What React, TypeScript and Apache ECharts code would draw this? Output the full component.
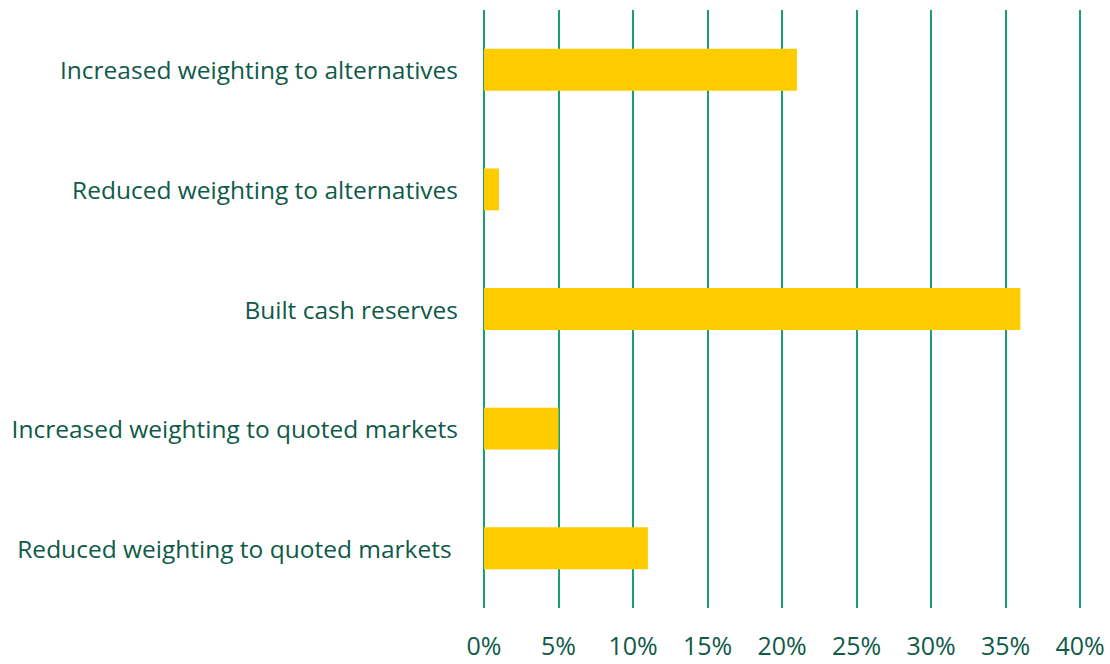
import React, { useEffect, useRef } from "react";
import * as echarts from "echarts";

const categories = [
  "Reduced weighting to quoted markets ",
  "Increased weighting to quoted markets",
  "Built cash reserves",
  "Reduced weighting to alternatives",
  "Increased weighting to alternatives",
];
const values = [11, 5, 36, 1, 21];
const xTicks = [0, 5, 10, 15, 20, 25, 30, 35, 40];

export default function App() {
  const ref = useRef<HTMLDivElement>(null);
  useEffect(() => {
    if (!ref.current) return;
    const chart = echarts.init(ref.current, null, { renderer: "svg" });
    chart.setOption({
      animation: false,
      grid: { left: 484, right: 30, top: 10, bottom: 56 },
      xAxis: {
        type: "value",
        min: xTicks[0],
        max: xTicks[xTicks.length - 1],
        interval: 5,
        axisLine: { show: false },
        axisTick: { show: false },
        splitLine: { show: true, lineStyle: { color: "#1A9E78", width: 2 } },
        axisLabel: {
          formatter: (v: number) => v + "%",
          color: "#0F5A48",
          fontSize: 25,
          lineHeight: 26,
          fontFamily: "Open Sans",
          margin: 24,
        },
      },
      yAxis: {
        type: "category",
        data: categories,
        axisLine: { show: false },
        axisTick: { show: false },
        axisLabel: {
          color: "#0F5A48",
          fontSize: 24.5,
          fontFamily: "Open Sans",
          margin: 26,
        },
      },
      series: [
        {
          type: "bar",
          data: values,
          barWidth: "35%",
          itemStyle: { color: "#FFCC00" },
        },
      ],
    });
    return () => chart.dispose();
  }, []);
  return (
    <div
      ref={ref}
      style={{ position: "absolute", left: 0, top: 0, width: 1110, height: 664 }}
    />
  );
}
